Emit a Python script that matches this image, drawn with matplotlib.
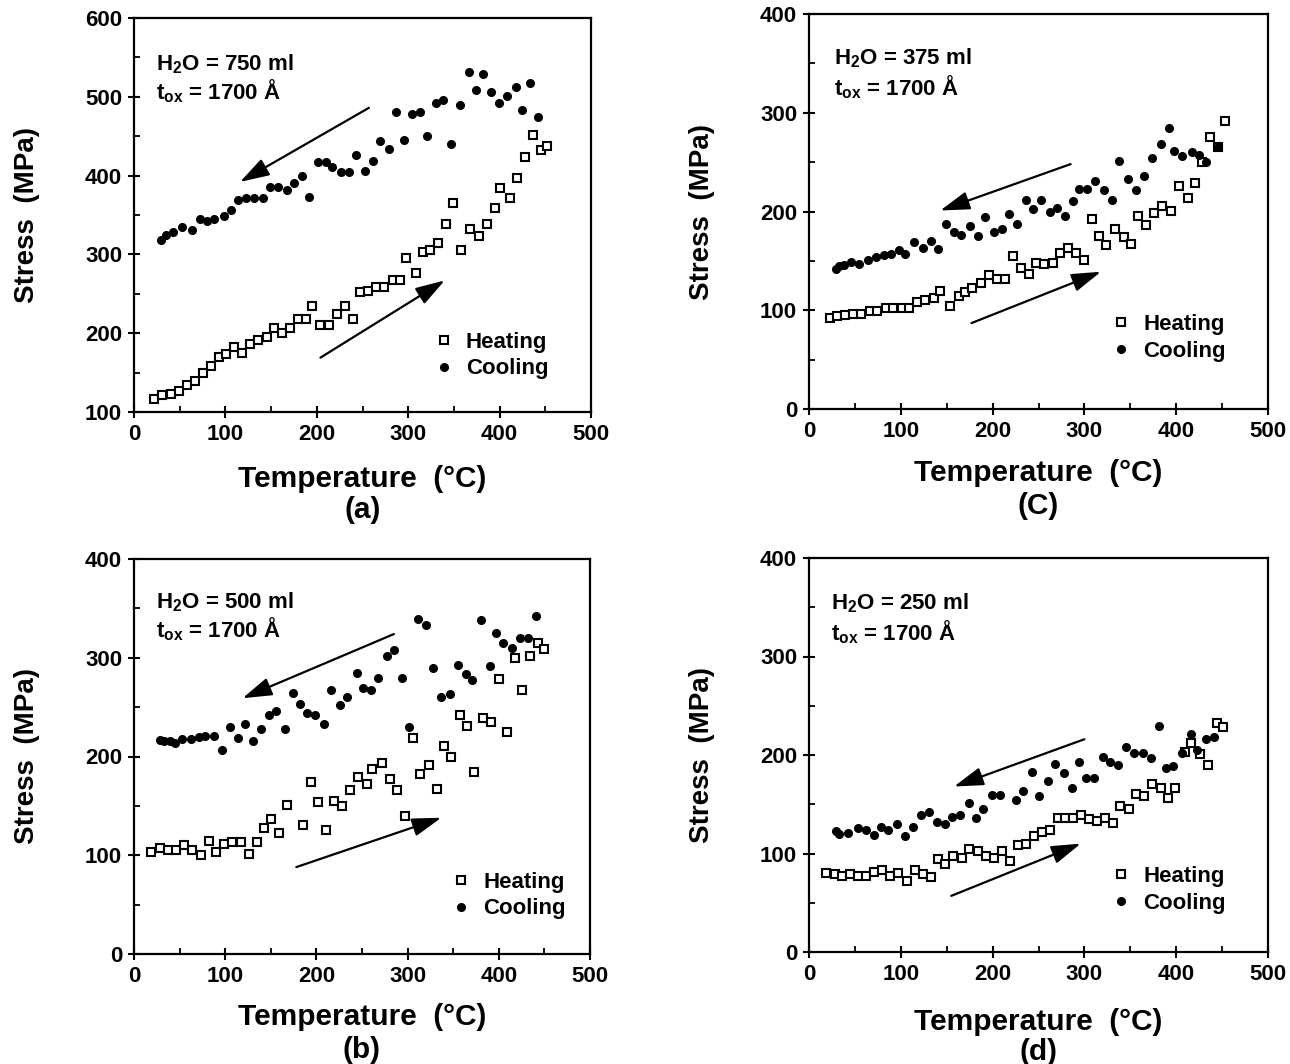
import matplotlib
matplotlib.use('Agg')
import matplotlib.pyplot as plt
from matplotlib.ticker import MultipleLocator

plt.rcParams['font.family'] = ['Liberation Sans', 'DejaVu Sans']
plt.rcParams['font.weight'] = 'bold'
plt.rcParams['axes.labelweight'] = 'bold'
plt.rcParams['mathtext.fontset'] = 'custom'
plt.rcParams['mathtext.rm'] = 'Liberation Sans:bold'
plt.rcParams['mathtext.bf'] = 'Liberation Sans:bold'
plt.rcParams['mathtext.it'] = 'Liberation Sans:bold'

# ---- data: temperature (C) / stress (MPa) ----
# (a) H2O = 750 ml
a_heat_T = [22, 31, 40, 49, 58, 67, 76, 84, 93, 101, 109, 118, 127, 136, 145, 153, 162, 171, 179, 188,
            195, 204, 213, 222, 231, 240, 247, 256, 265, 273, 283, 291, 298, 308, 316, 324, 333, 341, 349, 358,
            368, 377, 386, 395, 400, 411, 419, 428, 437, 445, 452]
a_heat_S = [117, 121, 123, 127, 134, 139, 150, 159, 170, 174, 182, 175, 186, 192, 195, 206, 200, 206, 218, 218,
            235, 210, 211, 224, 234, 218, 252, 254, 258, 258, 268, 268, 296, 277, 303, 305, 315, 339, 365, 305,
            332, 323, 339, 359, 384, 371, 397, 423, 451, 433, 437]
a_cool_T = [30, 35, 43, 53, 63, 72, 80, 88, 98, 106, 114, 123, 131, 141, 149, 158, 167, 175, 184, 192,
            201, 210, 217, 226, 235, 243, 253, 262, 269, 279, 287, 295, 304, 313, 321, 330, 338, 347, 357, 366,
            374, 382, 391, 399, 408, 418, 425, 433, 442]
a_cool_S = [318, 324, 328, 335, 331, 345, 342, 345, 349, 356, 369, 372, 372, 372, 385, 386, 382, 390, 399, 373,
            417, 417, 411, 404, 405, 426, 406, 418, 444, 434, 481, 445, 478, 481, 450, 492, 496, 440, 490, 531,
            508, 529, 506, 492, 501, 512, 483, 518, 475]

# (C) H2O = 375 ml
c_heat_T = [23, 31, 39, 48, 57, 66, 74, 84, 92, 101, 109, 118, 126, 136, 143, 154, 163, 170, 178, 187,
            196, 205, 214, 222, 231, 240, 247, 256, 266, 273, 282, 291, 300, 308, 316, 324, 333, 343, 351, 358,
            367, 376, 385, 394, 403, 413, 420, 428, 437, 445, 453]
c_heat_S = [92, 94, 95, 96, 96, 99, 99, 102, 102, 102, 102, 108, 110, 112, 120, 104, 114, 118, 123, 128,
            136, 132, 132, 155, 143, 137, 148, 147, 148, 158, 163, 158, 151, 192, 175, 166, 182, 174, 167, 195,
            186, 198, 206, 201, 226, 214, 229, 250, 275, 265, 292]
c_cool_T = [29, 33, 38, 46, 54, 64, 73, 82, 89, 98, 105, 114, 124, 133, 141, 149, 158, 166, 175, 184,
            192, 201, 210, 218, 227, 236, 244, 253, 262, 270, 279, 288, 294, 303, 312, 321, 330, 338, 347, 356,
            365, 374, 383, 392, 398, 406, 417, 425, 432, 445]
c_cool_S = [142, 145, 146, 149, 147, 151, 154, 156, 157, 161, 157, 169, 163, 170, 162, 187, 179, 176, 185, 175,
            194, 179, 182, 197, 187, 212, 203, 212, 199, 204, 195, 211, 223, 223, 231, 222, 212, 251, 233, 222,
            236, 254, 268, 285, 261, 256, 260, 257, 250, 265]

# (b) H2O = 500 ml
b_heat_T = [19, 28, 37, 46, 55, 64, 73, 82, 90, 99, 108, 117, 126, 135, 143, 150, 159, 168, 185, 194,
            202, 211, 219, 228, 237, 246, 255, 261, 272, 281, 288, 297, 306, 314, 323, 332, 340, 348, 357, 365,
            373, 383, 391, 400, 409, 418, 425, 434, 443, 450]
b_heat_S = [103, 107, 105, 105, 110, 105, 100, 114, 103, 111, 113, 113, 101, 113, 128, 137, 123, 151, 131, 174,
            154, 126, 155, 150, 166, 179, 172, 187, 193, 177, 166, 140, 219, 182, 191, 167, 211, 200, 242, 231,
            184, 239, 235, 278, 225, 300, 267, 302, 315, 309]
b_cool_T = [29, 33, 39, 45, 53, 62, 71, 78, 88, 96, 105, 114, 122, 131, 139, 148, 156, 166, 174, 182,
            190, 199, 208, 216, 226, 234, 244, 251, 260, 268, 277, 285, 294, 302, 311, 320, 328, 337, 346, 355,
            364, 371, 381, 390, 397, 405, 414, 423, 432, 441]
b_cool_S = [217, 216, 216, 214, 218, 218, 220, 221, 221, 207, 230, 219, 233, 216, 228, 242, 246, 228, 264, 253,
            244, 242, 233, 267, 252, 260, 285, 269, 267, 280, 302, 308, 280, 230, 339, 333, 290, 260, 263, 293,
            284, 277, 338, 292, 325, 315, 310, 320, 320, 342]

# (d) H2O = 250 ml
d_heat_T = [19, 28, 36, 45, 53, 62, 71, 80, 88, 97, 107, 115, 124, 133, 141, 148, 157, 167, 174, 184,
            193, 202, 210, 219, 228, 236, 245, 254, 263, 271, 279, 288, 296, 305, 314, 322, 331, 339, 349, 356,
            365, 374, 383, 391, 399, 410, 416, 426, 435, 444, 451]
d_heat_S = [80, 79, 77, 79, 77, 77, 81, 83, 77, 80, 72, 83, 79, 76, 94, 89, 97, 95, 105, 103,
            97, 95, 103, 92, 109, 110, 118, 122, 124, 136, 136, 136, 139, 135, 133, 136, 131, 148, 145, 160,
            158, 171, 166, 156, 167, 203, 212, 201, 190, 232, 228]
d_cool_T = [29, 33, 42, 53, 62, 71, 78, 86, 96, 105, 113, 122, 131, 139, 148, 156, 165, 174, 182, 190,
            199, 208, 225, 233, 243, 251, 260, 268, 278, 286, 294, 302, 311, 320, 328, 337, 345, 354, 364, 373,
            381, 389, 397, 406, 416, 423, 432, 441]
d_cool_S = [123, 120, 121, 126, 124, 119, 127, 124, 130, 118, 127, 139, 142, 132, 130, 137, 139, 151, 136, 145,
            159, 159, 154, 163, 183, 158, 174, 191, 182, 167, 193, 177, 177, 198, 193, 190, 208, 202, 202, 197,
            229, 187, 189, 202, 221, 205, 216, 218]

water = ['750', '375', '500', '250']
tags = ['(a)', '(C)', '(b)', '(d)']
ylims = [(100, 600), (0, 400), (0, 400), (0, 400)]

W, H = 1290, 1064
fig = plt.figure(figsize=(W / 100, H / 100), dpi=100)


def px_axes(left, top, right, bottom):
    return fig.add_axes([left / W, 1 - bottom / H, (right - left) / W, (bottom - top) / H])


axes = [px_axes(134, 18, 591, 412),
        px_axes(809, 14, 1268, 409),
        px_axes(134, 559, 590, 954),
        px_axes(809, 558, 1268, 952)]

# layout helpers (figure pixels) for labels around each panel
xlab_y = [479, 473, 1017, 1022]
tag_y = [510, 506, 1050, 1052]
ylab_x = [27, 702, 27, 702]

# arrows: (start, end) in data units
cool_arrows = [((257, 486), (116, 392)), ((285, 248), (143, 201)),
               ((285, 324), (119, 259)), ((300, 216), (158, 168))]
heat_arrows = [((204, 169), (340, 267)), ((177, 87), (318, 139)),
               ((178, 88), (337, 138)), ((155, 57), (296, 110))]
note_pos = [(24, 541, 507), (27, 355, 326), (24, 356, 329), (24, 354, 325)]
leg_pos = [(0.658, 0.143), (0.66, 0.18), (0.698, 0.148), (0.66, 0.158)]

series = [(a_heat_T, a_heat_S, a_cool_T, a_cool_S),
          (c_heat_T, c_heat_S, c_cool_T, c_cool_S),
          (b_heat_T, b_heat_S, b_cool_T, b_cool_S),
          (d_heat_T, d_heat_S, d_cool_T, d_cool_S)]

for i, ax in enumerate(axes):
    hT, hS, cT, cS = series[i]
    ax.plot(hT, hS, 's', ls='none', mfc='white', mec='black', mew=1.5, ms=5.5, label='Heating')
    ax.plot(cT, cS, 'o', ls='none', color='black', ms=5.5, label='Cooling')

    ax.set_xlim(0, 500)
    ax.set_ylim(*ylims[i])
    ax.xaxis.set_major_locator(MultipleLocator(100))
    ax.xaxis.set_minor_locator(MultipleLocator(50))
    ax.yaxis.set_major_locator(MultipleLocator(100))
    ax.yaxis.set_minor_locator(MultipleLocator(50))
    ax.tick_params(which='major', direction='inout', length=9, width=1.5, labelsize=16, pad=4)
    ax.tick_params(which='minor', direction='in', length=4, width=1.3)
    for s in ax.spines.values():
        s.set_linewidth(1.6)

    for (st, en) in (cool_arrows[i], heat_arrows[i]):
        ax.annotate('', xy=en, xytext=st,
                    arrowprops=dict(arrowstyle='-|>,head_length=0.9,head_width=0.28',
                                    lw=1.6, color='black', shrinkA=0, shrinkB=0,
                                    mutation_scale=20))

    nx, ny1, ny2 = note_pos[i]
    ax.text(nx, ny1, r'H$_{\mathbf{2}}$O = %s ml' % water[i], fontsize=16, va='center', ha='left')
    ax.text(nx, ny2, r't$_{\mathbf{ox}}$ = 1700 Å', fontsize=16, va='center', ha='left')

    ax.legend(loc='center left', bbox_to_anchor=leg_pos[i], frameon=False, fontsize=16,
              handlelength=0.8, handletextpad=0.6, labelspacing=0.25,
              borderaxespad=0, borderpad=0)

    pos = ax.get_position()
    xc = (pos.x0 + pos.x1) / 2
    yc = (pos.y0 + pos.y1) / 2
    fig.text(xc, 1 - xlab_y[i] / H, 'Temperature  (°C)', fontsize=21.5, ha='center', va='center')
    fig.text(xc, 1 - tag_y[i] / H, tags[i], fontsize=21.5, ha='center', va='center')
    fig.text(ylab_x[i] / W, yc, 'Stress  (MPa)', fontsize=20, rotation=90, ha='center', va='center')

fig.savefig('out.png', dpi=100)
